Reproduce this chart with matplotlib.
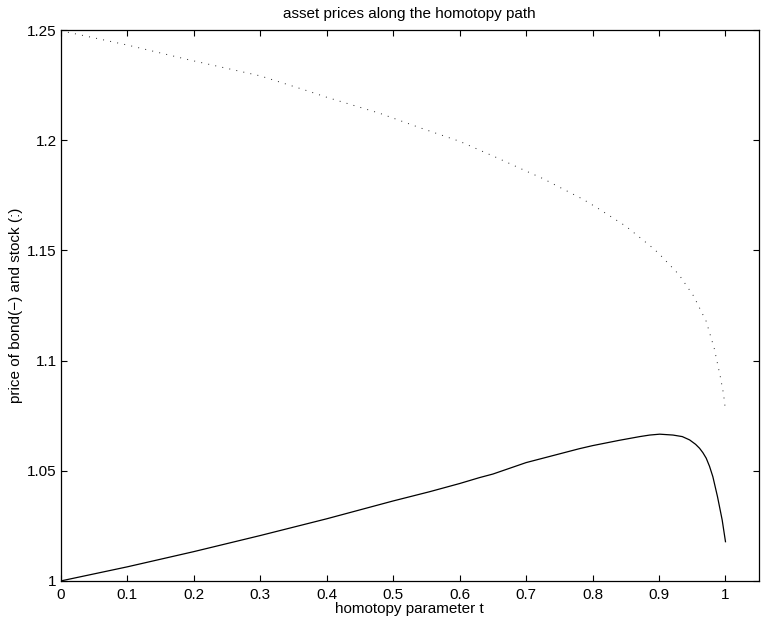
import numpy as np
import matplotlib
matplotlib.use('Agg')
import matplotlib.pyplot as plt

# homotopy parameter values and prices
t_bond = [0.0, 0.1, 0.2, 0.3, 0.4, 0.5, 0.555, 0.6, 0.63, 0.65, 0.7, 0.78, 0.8,
          0.84, 0.871, 0.886, 0.901, 0.921, 0.935, 0.946, 0.955, 0.961, 0.966,
          0.971, 0.976, 0.981, 0.988, 0.995, 1.0]
bond = [1.0, 1.0064, 1.0133, 1.0206, 1.0282, 1.0363, 1.0405, 1.0442, 1.0469, 1.0485,
        1.0537, 1.0600, 1.0614, 1.0638, 1.0655, 1.0662, 1.0666, 1.0662, 1.0655,
        1.0640, 1.0620, 1.0602, 1.0582, 1.0557, 1.0520, 1.0473, 1.0382, 1.0277,
        1.0178]

t_stock = [0.0, 0.1, 0.194, 0.3, 0.367, 0.4, 0.48, 0.539, 0.6, 0.655, 0.7, 0.726,
           0.745, 0.785, 0.806, 0.85, 0.891, 0.9, 0.93, 0.952, 0.971, 0.983,
           0.992, 0.997, 1.0]
stock = [1.2497, 1.2432, 1.2364, 1.2292, 1.2228, 1.2195, 1.2122, 1.2058, 1.1995,
         1.1922, 1.1860, 1.1825, 1.1795, 1.1733, 1.1695, 1.1610, 1.1510, 1.1485,
         1.1390, 1.1293, 1.1178, 1.1056, 1.0930, 1.0850, 1.0774]

xticks = [0, 0.1, 0.2, 0.3, 0.4, 0.5, 0.6, 0.7, 0.8, 0.9, 1]
xticklabels = ['0', '0.1', '0.2', '0.3', '0.4', '0.5', '0.6', '0.7', '0.8', '0.9', '1']
yticks = [1, 1.05, 1.1, 1.15, 1.2, 1.25]
yticklabels = ['1', '1.05', '1.1', '1.15', '1.2', '1.25']

plt.rcParams['font.family'] = ['Liberation Sans', 'DejaVu Sans']
plt.rcParams['font.size'] = 11

fig = plt.figure(figsize=(7.61, 6.26), dpi=100)
ax = fig.add_axes([0.080, 0.072, 0.917, 0.880])

ax.plot(t_bond, bond, color='black', linewidth=0.9)
ax.plot(t_stock, stock, color='0.15', linewidth=0.7, linestyle=(0, (1, 6.4)))

ax.set_xlim(0, 1.05)
ax.set_ylim(1, 1.25)
ax.set_xticks(xticks)
ax.set_xticklabels(xticklabels)
ax.set_yticks(yticks)
ax.set_yticklabels(yticklabels)
ax.tick_params(direction='in', length=4.5, width=0.8, top=True, right=True,
               labelsize=11)
ax.tick_params(axis='x', pad=5)
ax.tick_params(axis='y', pad=3)
for s in ax.spines.values():
    s.set_linewidth(0.9)

ax.set_title('asset prices along the homotopy path', fontsize=11, pad=9)
ax.set_xlabel('homotopy parameter t', fontsize=11, labelpad=0)
ax.set_ylabel('price of bond(\u2212) and stock (:)', fontsize=11, labelpad=3)

fig.savefig('out.png', dpi=100)
